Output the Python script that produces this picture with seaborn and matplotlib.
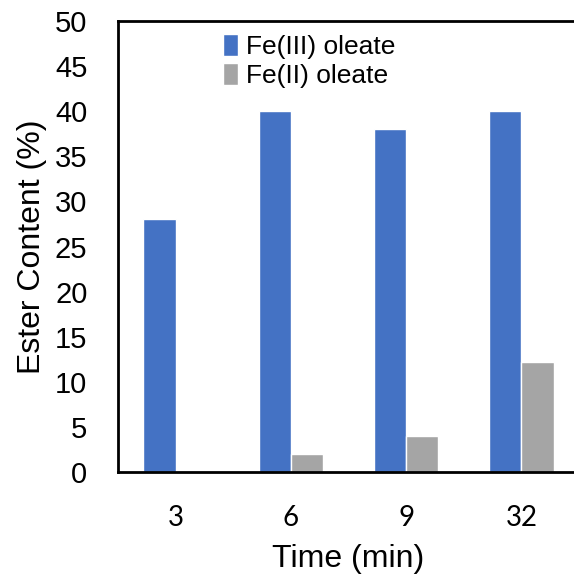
import matplotlib
matplotlib.use("Agg")
import matplotlib.pyplot as plt
import seaborn as sns
import pandas as pd

times = ["3", "6", "9", "32"]
fe3 = [28, 40, 38, 40]
fe2 = [0, 2, 4, 12.2]
series_names = ["Fe(III) oleate", "Fe(II) oleate"]
colors = ["#4472C4", "#A5A5A5"]
yticks = [0, 5, 10, 15, 20, 25, 30, 35, 40, 45, 50]

df = pd.DataFrame({
    "Time": times * 2,
    "Value": fe3 + fe2,
    "Series": [series_names[0]] * 4 + [series_names[1]] * 4,
})

sns.set_style("white")
plt.rcParams["font.family"] = ["Liberation Sans", "DejaVu Sans"]
plt.rcParams["text.color"] = "black"
plt.rcParams["axes.labelcolor"] = "black"
plt.rcParams["xtick.color"] = "black"
plt.rcParams["ytick.color"] = "black"

fig = plt.figure(figsize=(5.74, 5.75), dpi=100)
ax = fig.add_axes([118/574, 1 - 472/575, 461/574, 451/575])
sns.barplot(data=df, x="Time", y="Value", hue="Series", palette=colors,
            width=0.56, saturation=1, ax=ax, legend=True)

ax.set_ylim(0, 50)
ax.set_yticks(yticks)
ax.set_yticklabels([str(v) for v in yticks], fontsize=21)
ax.set_xticks(range(len(times)))
ax.set_xticklabels(times, fontsize=20, family="Lato")
ax.tick_params(axis="both", length=0, colors="black")
ax.tick_params(axis="y", pad=22)
ax.tick_params(axis="x", pad=24)
ax.set_xlabel("Time (min)", fontsize=23, labelpad=9)
ax.set_ylabel("Ester Content (%)", fontsize=23, labelpad=6)
for s in ax.spines.values():
    s.set_visible(True)
    s.set_color("black")
    s.set_linewidth(2)

leg = ax.legend(loc="upper left", bbox_to_anchor=(0.2, 1.0), frameon=False,
                fontsize=19, handlelength=0.55, handleheight=0.9,
                handletextpad=0.3, labelspacing=0.15, borderaxespad=0.1)
for t in leg.get_texts():
    t.set_color("black")

fig.savefig("out.png", dpi=100)
